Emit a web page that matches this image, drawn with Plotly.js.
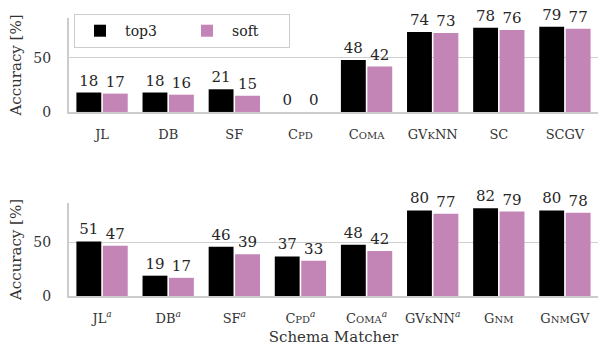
<!DOCTYPE html>
<html>
<head>
<meta charset="utf-8">
<script src="https://cdn.plot.ly/plotly-3.0.1.min.js"></script>
<style>html,body{margin:0;padding:0;background:#fff;}#chart{width:598px;height:352px;}</style>
</head>
<body>
<div id="chart"></div>
<script>
const sc = (big, small) => big + "<span style='font-size:10px'>" + small + "</span>";
const sup = "<sup><i>a</i></sup>";

const categoriesTop = ["JL", "DB", "SF", sc("C", "PD"), sc("C", "OMA"), "GV" + sc("", "K") + "NN", "SC", "SCGV"];
const top3Top = [18, 18, 21, 0, 48, 74, 78, 79];
const softTop = [17, 16, 15, 0, 42, 73, 76, 77];

const categoriesBottom = ["JL" + sup, "DB" + sup, "SF" + sup, sc("C", "PD") + sup, sc("C", "OMA") + sup, "GV" + sc("", "K") + "NN" + sup, sc("G", "NM"), sc("G", "NM") + "GV"];
const top3Bottom = [51, 19, 46, 37, 48, 80, 82, 80];
const softBottom = [47, 17, 39, 33, 42, 77, 79, 78];

const seriesNames = ["top3", "soft"];
const colors = ["#000000", "#c384b6"];
const FONT = "DejaVu Serif";

function bar(x, y, i, xa, ya, show) {
  return {
    type: "bar", x: x.map((_, k) => k), y: y, name: seriesNames[i],
    xaxis: xa, yaxis: ya, showlegend: show,
    marker: {color: colors[i], line: {width: 0}},
    text: y.map(String), textposition: "outside", cliponaxis: false,
    textfont: {family: FONT, size: 15, color: "#262626"},
    hoverinfo: "skip"
  };
}

const data = [
  bar(categoriesTop, top3Top, 0, "x", "y", true),
  bar(categoriesTop, softTop, 1, "x", "y", true),
  bar(categoriesBottom, top3Bottom, 0, "x2", "y2", false),
  bar(categoriesBottom, softBottom, 1, "x2", "y2", false)
];

const yax = (dom) => ({
  domain: dom, range: [0, 87], tickvals: [0, 50], ticktext: ["0", "50"],
  showgrid: true, gridcolor: "#d0d0d0", gridwidth: 1,
  showline: true, linecolor: "#cccccc", linewidth: 2,
  zeroline: false, ticks: "", ticklabelstandoff: 13,
  tickfont: {family: FONT, size: 14, color: "#333"},
  title: {text: "Accuracy [%]", font: {family: FONT, size: 15, color: "#333"}, standoff: 8}
});
const xax = (cats, anchor) => ({
  anchor: anchor, range: [-0.5, 7.5], tickvals: cats.map((_, k) => k), ticktext: cats,
  showline: true, linecolor: "#cccccc", linewidth: 2, ticks: "", showgrid: false,
  zeroline: false, ticklabelstandoff: 9, tickfont: {family: FONT, size: 13, color: "#333"}
});

const layout = {
  width: 598, height: 352,
  margin: {l: 69, r: 0, t: 18, b: 56},
  paper_bgcolor: "#fff", plot_bgcolor: "#fff",
  barmode: "group", bargap: 0.2, bargroupgap: 0.06,
  font: {family: FONT, color: "#333"},
  xaxis: xax(categoriesTop, "y"),
  yaxis: yax([0.662, 1]),
  xaxis2: Object.assign(xax(categoriesBottom, "y2"), {title: {text: "Schema Matcher", font: {family: FONT, size: 15, color: "#333"}, standoff: 7}}),
  yaxis2: yax([0, 0.3345]),
  legend: {
    orientation: "h", x: 0.0095, y: 1.014, xanchor: "left", yanchor: "top",
    bgcolor: "#fff", bordercolor: "#cccccc", borderwidth: 1,
    font: {family: FONT, size: 14, color: "#222"}, entrywidth: 52, itemwidth: 40
  }
};

Plotly.newPlot("chart", data, layout, {displayModeBar: false, staticPlot: true});
</script>
</body>
</html>
